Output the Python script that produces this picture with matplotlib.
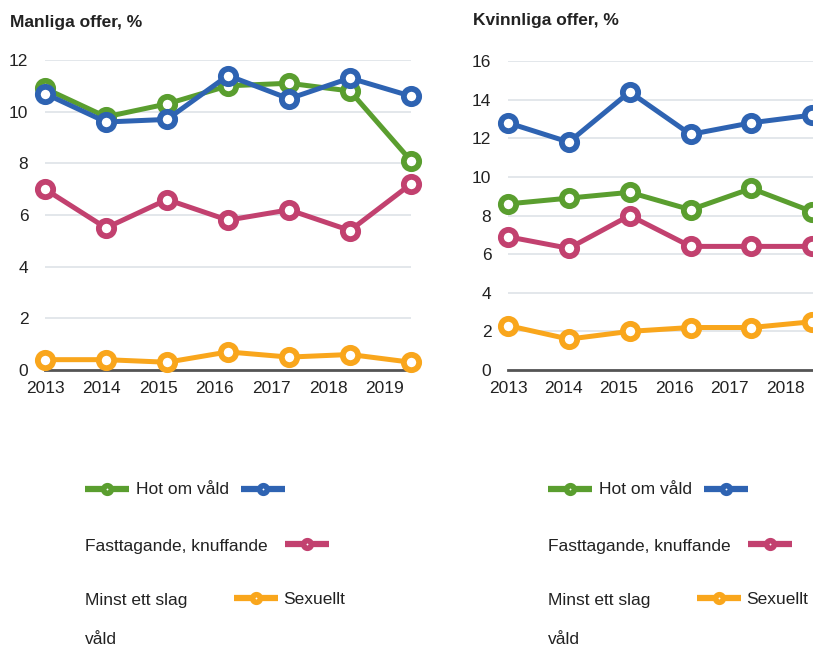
import numpy as np
import matplotlib.pyplot as plt
from matplotlib.lines import Line2D

plt.rcParams['font.family'] = ['Liberation Sans', 'DejaVu Sans']

years = ['2013', '2014', '2015', '2016', '2017', '2018', '2019']

# Manliga offer, %
men_hot = [10.9, 9.8, 10.3, 11.0, 11.1, 10.8, 8.1]
men_slag = [10.7, 9.6, 9.7, 11.4, 10.5, 11.3, 10.6]
men_fast = [7.0, 5.5, 6.6, 5.8, 6.2, 5.4, 7.2]
men_sex = [0.4, 0.4, 0.3, 0.7, 0.5, 0.6, 0.3]

# Kvinnliga offer, % (2019 is cut off in the picture)
wom_hot = [8.6, 8.9, 9.2, 8.3, 9.4, 8.2]
wom_slag = [12.8, 11.8, 14.4, 12.2, 12.8, 13.2]
wom_fast = [6.9, 6.3, 8.0, 6.4, 6.4, 6.4]
wom_sex = [2.3, 1.6, 2.0, 2.2, 2.2, 2.5]

GREEN = '#5a9e2f'
BLUE = '#2e63b2'
PINK = '#c2416f'
ORANGE = '#f9a61c'
FS = 12.5

W, H = 813, 648
fig = plt.figure(figsize=(W / 100, H / 100), dpi=100)


def px(x, y):
    return x / W, 1 - y / H


def panel(rect, series, ymax, step, title, title_xy, tick_step, labels):
    ax = fig.add_axes(rect)
    for vals, col in series:
        ax.plot(range(len(vals)), vals, color=col, lw=3.6, marker='o', ms=11,
                mfc='white', mec=col, mew=4.2, clip_on=False, zorder=3)
    ax.set_xlim(0, 6)
    ax.set_ylim(0, ymax)
    ax.set_yticks(np.arange(0, ymax + 1, step))
    # category labels sit a little tighter than the points in the original
    ax.set_xticks(np.arange(len(labels)) * tick_step)
    ax.set_xticklabels(labels)
    ax.grid(axis='y', color='#e1e5e9', lw=1.3)
    ax.set_axisbelow(True)
    for s in ['top', 'right', 'left']:
        ax.spines[s].set_visible(False)
    ax.spines['bottom'].set_color('#555555')
    ax.spines['bottom'].set_linewidth(2)
    ax.tick_params(axis='y', length=0, pad=12, labelsize=FS, colors='#222222')
    ax.tick_params(axis='x', length=0, pad=8, labelsize=FS, colors='#222222')
    fig.text(*px(*title_xy), title, fontsize=FS, fontweight='bold',
             color='#222222', va='center', ha='left')
    return ax


panel([45 / W, 278 / H, 366 / W, 310 / H],
      [(men_fast, PINK), (men_sex, ORANGE), (men_hot, GREEN), (men_slag, BLUE)],
      12, 2, 'Manliga offer, %', (10, 22), 0.928, years)
panel([508 / W, 278 / H, 365 / W, 309 / H],
      [(wom_fast, PINK), (wom_sex, ORANGE), (wom_hot, GREEN), (wom_slag, BLUE)],
      16, 2, 'Kvinnliga offer, %', (473, 21), 0.912, years[:6])


def handle(x0, y, col):
    x1 = x0 + 44
    xa, ya = px(x0, y)
    xb, _ = px(x1, y)
    fig.add_artist(Line2D([xa, xb], [ya, ya], color=col, lw=4.5,
                          solid_capstyle='butt'))
    fig.add_artist(Line2D([(xa + xb) / 2], [ya], marker='o', ms=5.5, mfc='white',
                          mec=col, mew=4, color=col))


def legend(x0):
    handle(x0, 489, GREEN)
    fig.text(*px(x0 + 51, 490), 'Hot om våld', fontsize=FS, va='center', color='#222222')
    handle(x0 + 156, 489, BLUE)
    fig.text(*px(x0, 547), 'Fasttagande, knuffande', fontsize=FS, va='center', color='#222222')
    handle(x0 + 200, 544, PINK)
    fig.text(*px(x0, 600), 'Minst ett slag', fontsize=FS, va='center', color='#222222')
    handle(x0 + 149, 598, ORANGE)
    fig.text(*px(x0 + 198, 600), 'Sexuellt', fontsize=FS, va='center', color='#222222')
    fig.text(*px(x0, 640), 'våld', fontsize=FS, va='center', color='#222222')


legend(85)
legend(548)

fig.savefig('out.png', dpi=100)
